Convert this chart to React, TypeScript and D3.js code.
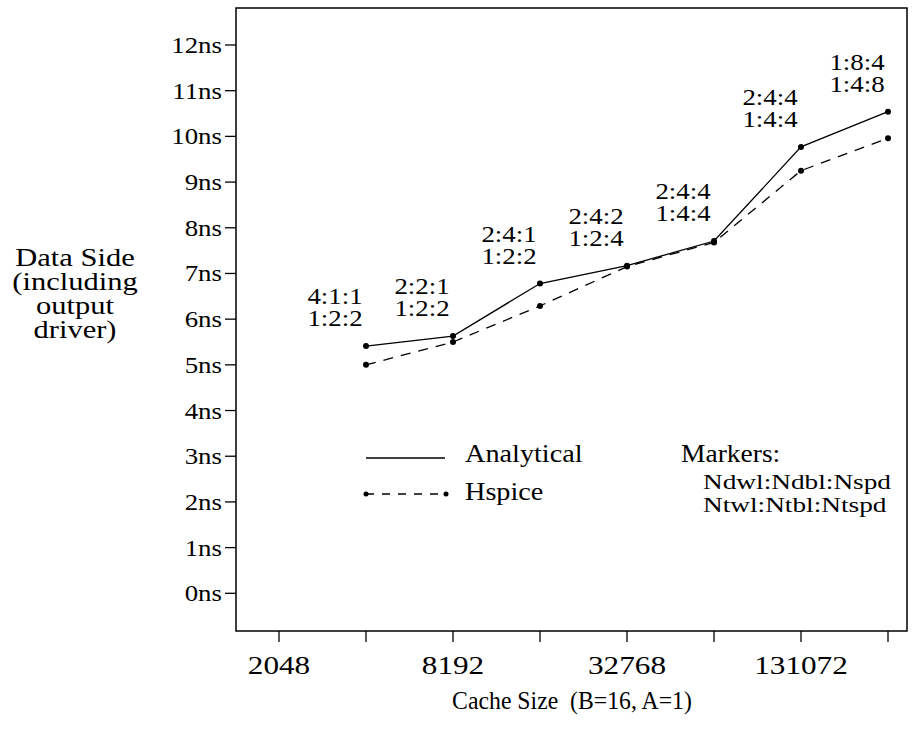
import React from "react";
import * as d3 from "d3";

const sizes = [4096, 8192, 16384, 32768, 65536, 131072, 262144];
const analytical = [5.41, 5.63, 6.78, 7.17, 7.71, 9.77, 10.54];
const hspice = [5.0, 5.5, 6.29, 7.15, 7.68, 9.25, 9.96];
const labelTop = ["4:1:1", "2:2:1", "2:4:1", "2:4:2", "2:4:4", "2:4:4", "1:8:4"];
const labelBottom = ["1:2:2", "1:2:2", "1:2:2", "1:2:4", "1:4:4", "1:4:4", "1:4:8"];
const xTicks = [2048, 4096, 8192, 16384, 32768, 65536, 131072, 262144];
const xTickLabels = ["2048", "8192", "32768", "131072"];
const yTicks = [0, 1, 2, 3, 4, 5, 6, 7, 8, 9, 10, 11, 12];
const yTitle = ["Data Side", "(including", "output", "driver)"];
const xTitle = "Cache Size\u00A0 (B=16, A=1)";
const legendNames = ["Analytical", "Hspice"];
const markerNotes = ["Markers:", "Ndwl:Ndbl:Nspd", "Ntwl:Ntbl:Ntspd"];

const FONT = "'Liberation Serif', 'Times New Roman', serif";

function T({ x, y, anchor = "start", size = 24, sx = 1.12, children }: any) {
  return (
    <text
      transform={`translate(${x},${y}) scale(${sx},1)`}
      textAnchor={anchor}
      fontFamily={FONT}
      fontSize={size}
      fill="#000"
    >
      {children}
    </text>
  );
}

export default function App() {
  const W = 923, H = 744;
  const left = 236, top = 8, right = 907, bottom = 631;
  const x = d3.scaleLog().base(2).domain([2048, 262144]).range([279, 888]);
  const y = d3.scaleLinear().domain([0, 12]).range([593.3, 45]);

  const lineGen = d3
    .line<number>()
    .x((_, i) => x(sizes[i]))
    .y((d) => y(d));

  return (
    <svg width={W} height={H} style={{ position: "absolute", left: 0, top: 0, background: "#fff" }}>
      <rect x={left} y={top} width={right - left} height={bottom - top} fill="none" stroke="#000" strokeWidth={1.5} />
      {yTicks.map((t) => (
        <g key={"y" + t}>
          <line x1={left - 11} x2={left} y1={y(t)} y2={y(t)} stroke="#000" strokeWidth={1.3} />
          <T x={left - 14} y={y(t) + 8} anchor="end">{`${t}ns`}</T>
        </g>
      ))}
      {xTicks.map((t) => (
        <line key={"x" + t} x1={x(t)} x2={x(t)} y1={bottom} y2={bottom + 11} stroke="#000" strokeWidth={1.3} />
      ))}
      {xTickLabels.map((l) => (
        <T key={"xl" + l} x={x(+l)} y={674} anchor="middle" size={26} sx={1.2}>{l}</T>
      ))}
      <T x={572} y={709} anchor="middle" size={25} sx={0.95}>{xTitle}</T>
      {yTitle.map((l, i) => (
        <T key={"yt" + i} x={75} y={266 + i * 24} anchor="middle" size={25} sx={1.22}>{l}</T>
      ))}

      <path d={lineGen(hspice) || ""} fill="none" stroke="#000" strokeWidth={1.3} strokeDasharray="10,8" />
      <path d={lineGen(analytical) || ""} fill="none" stroke="#000" strokeWidth={1.3} />
      {sizes.map((s, i) => (
        <g key={"p" + s}>
          <circle cx={x(s)} cy={y(analytical[i])} r={3} fill="#000" />
          <circle cx={x(s)} cy={y(hspice[i])} r={3} fill="#000" />
          <T x={x(s) - 31} y={y(analytical[i]) - 42} anchor="middle">{labelTop[i]}</T>
          <T x={x(s) - 31} y={y(analytical[i]) - 20} anchor="middle">{labelBottom[i]}</T>
        </g>
      ))}

      {/* legend */}
      <line x1={366} x2={445} y1={458} y2={458} stroke="#000" strokeWidth={1.3} />
      <T x={465} y={462} size={25} sx={1.13}>{legendNames[0]}</T>
      <line x1={366} x2={446} y1={494} y2={494} stroke="#000" strokeWidth={1.3} strokeDasharray="8,8" />
      <circle cx={366} cy={494} r={2.5} fill="#000" />
      <circle cx={446} cy={494} r={2.5} fill="#000" />
      <T x={465} y={500} size={25} sx={1.13}>{legendNames[1]}</T>

      <T x={681} y={462} size={25} sx={1.1}>{markerNotes[0]}</T>
      <T x={703} y={489} size={21} sx={1.3}>{markerNotes[1]}</T>
      <T x={703} y={512} size={21} sx={1.3}>{markerNotes[2]}</T>
    </svg>
  );
}
